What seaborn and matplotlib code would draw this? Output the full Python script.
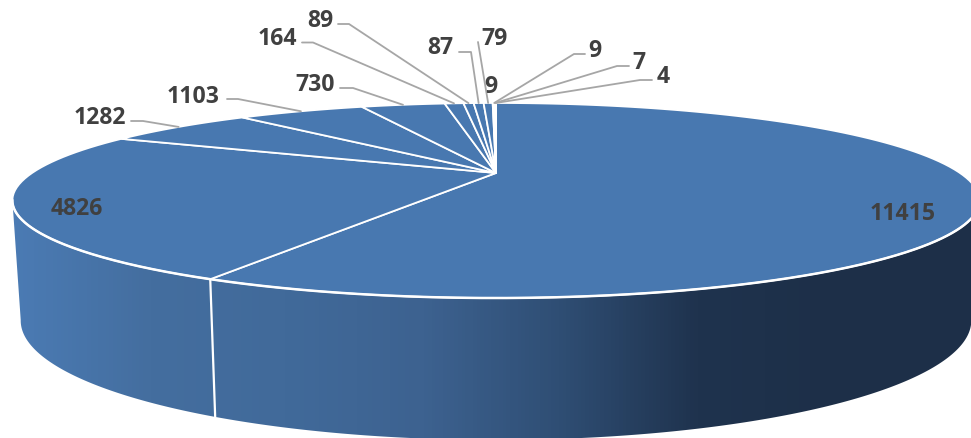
import numpy as np
import matplotlib.pyplot as plt
import seaborn as sns

# slice values, clockwise from 12 o'clock
values = [11415, 4826, 1282, 1103, 730, 164, 89, 87, 79, 9, 9, 7, 4]
labels = [str(v) for v in values]

# label centres in pixels
label_x = [903, 77, 100, 193, 315, 277, 320, 440, 494, 491, 595, 639, 663]
label_y = [214, 209, 118, 97, 85, 39, 21, 48, 39, 87, 51, 63, 77]

# leader lines: the label side of each one, None for labels sitting on the pie
leaders = [None, None,
           [(131, 122), (143, 122)],
           [(227, 100), (238, 100)],
           [(340, 89), (353, 89)],
           [(302, 43.5), (313, 43.5)],
           [(338, 25), (349, 25)],
           [(459, 53), (471, 53)],
           [(478, 43)],
           None,
           [(585, 55), (574, 55)],
           [(629, 67), (617, 67)],
           [(652, 81), (640, 81)]]

top_color = '#4878b0'
wall_colors = ['#4b7bb4', '#446e9f', '#416a9a', '#3d6290', '#2f4e74', '#1f334e', '#1d2f48', '#1d2f48']
cx = 496


def project(theta, a, b, c, k=-0.282):
    # perspective view of the unit circle, theta clockwise from the top
    X = np.sin(theta)
    Y = -np.cos(theta)
    d = 1 + k * Y
    return cx + a * X / d, (b * Y + c) / d


def rim(theta):
    return project(theta, 464, 40.7, 174)


def floor(theta):
    return project(theta, 456, 28.6, 288)


sns.set_theme(style='white')
plt.rcParams['font.family'] = ['Open Sans', 'DejaVu Sans']

fig = plt.figure(figsize=(9.71, 4.39), dpi=100)
ax = fig.add_axes([0, 0, 1, 1])
ax.set_xlim(0, 971)
ax.set_ylim(439, 0)
ax.axis('off')

fractions = np.array(values) / sum(values)
edges = np.concatenate([[0], np.cumsum(fractions)]) * 2 * np.pi
mids = (edges[:-1] + edges[1:]) / 2

# side wall, a horizontal gradient clipped to the visible front of the cylinder
t = np.linspace(np.pi / 2 + 0.28, 3 * np.pi / 2 - 0.28, 400)
tx, ty = rim(t)
fx, fy = floor(t)
wall_x = np.concatenate([tx, fx[::-1]])
wall_y = np.concatenate([ty, fy[::-1]])
wall = ax.fill(wall_x, wall_y, color='none', lw=0)[0]
cmap = sns.blend_palette(wall_colors, n_colors=256, as_cmap=True)
img = ax.imshow(np.linspace(0, 1, 256).reshape(1, -1), cmap=cmap, aspect='auto',
                extent=[12, 971, 439, 0], zorder=1)
img.set_clip_path(wall)
ax.set_xlim(0, 971)
ax.set_ylim(439, 0)

# white seam down the wall where the two big slices meet
sx, sy = rim(edges[1])
ex, ey = floor(edges[1])
ax.plot([sx, ex], [sy, ey], color='white', lw=1.6, zorder=2)

# top face
for i in range(len(values)):
    a = np.linspace(edges[i], edges[i + 1], max(int(200 * fractions[i]), 2) + 2)
    x, y = rim(a)
    ax.fill(np.r_[cx, x], np.r_[174, y], color=top_color, ec='white', lw=1.3,
            zorder=3, joinstyle='round')

# thicker white edge along the front of the top face
ax.plot(tx, ty, color='white', lw=1.8, zorder=3.5)

# leader lines and labels
for i, lab in enumerate(labels):
    if leaders[i] is not None:
        ax_, ay_ = rim(mids[i])
        pts = leaders[i] + [(ax_, ay_)]
        ax.plot([p[0] for p in pts], [p[1] for p in pts], color='#a6a6a6', lw=1.3,
                zorder=4, solid_joinstyle='round')
    ax.text(label_x[i], label_y[i], lab, ha='center', va='center', fontsize=16.6,
            fontweight='bold', color='#404040', zorder=5)

fig.savefig('out.png', dpi=100)
